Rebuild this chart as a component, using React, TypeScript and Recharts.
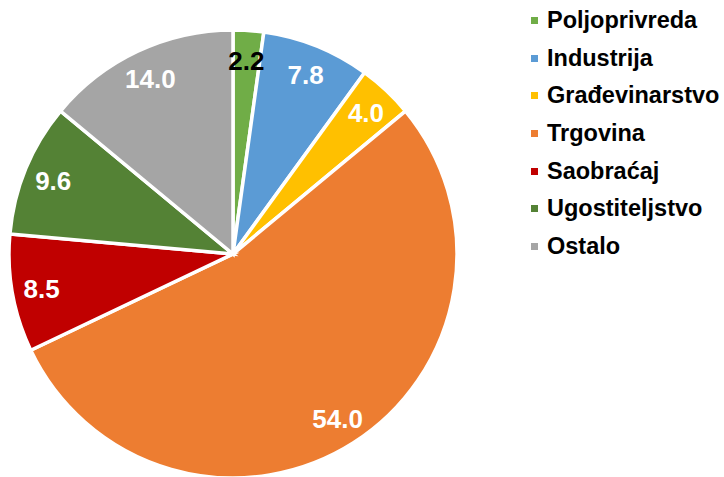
import React from 'react';
import { PieChart, Pie, Cell, Legend } from 'recharts';

const categories = ['Poljoprivreda', 'Industrija', 'Građevinarstvo', 'Trgovina', 'Saobraćaj', 'Ugostiteljstvo', 'Ostalo'];
const values = [2.2, 7.8, 4.0, 54.0, 8.5, 9.6, 14.0];
const colors = ['#70AD47', '#5B9BD5', '#FFC000', '#ED7D31', '#C00000', '#548235', '#A5A5A5'];
const labelColors = ['#000000', '#FFFFFF', '#FFFFFF', '#FFFFFF', '#FFFFFF', '#FFFFFF', '#FFFFFF'];

const data = categories.map((name, i) => ({ name, value: values[i] }));

const RAD = Math.PI / 180;

const renderLabel = (props: any) => {
  const { cx, cy, midAngle, outerRadius, value, index } = props;
  const r = outerRadius * 0.868;
  const x = cx + r * Math.cos(-midAngle * RAD);
  const y = cy + r * Math.sin(-midAngle * RAD) + 1;
  return (
    <text
      x={x}
      y={y}
      fill={labelColors[index]}
      textAnchor="middle"
      dominantBaseline="central"
      fontFamily="'Liberation Sans', Arial, sans-serif"
      fontWeight="bold"
      fontSize={26}
    >
      {Number(value).toFixed(1)}
    </text>
  );
};

const renderLegend = () => (
  <div style={{ fontFamily: "'Liberation Sans', Arial, sans-serif", fontWeight: 'bold', fontSize: 23.5, color: '#000' }}>
    {categories.map((c, i) => (
      <div key={c} style={{ height: 37.6, display: 'flex', alignItems: 'center', whiteSpace: 'nowrap' }}>
        <span style={{ display: 'inline-block', width: 7, height: 7, background: colors[i], marginRight: 9 }} />
        <span>{c}</span>
      </div>
    ))}
  </div>
);

export default function App() {
  return (
    <div style={{ position: 'absolute', left: 0, top: 0, width: 724, height: 477, background: '#fff' }}>
      <PieChart width={724} height={477} margin={{ top: 0, right: 0, bottom: 0, left: 0 }}>
        <Pie
          data={data}
          dataKey="value"
          nameKey="name"
          cx={233}
          cy={254}
          outerRadius={224}
          startAngle={90}
          endAngle={-270}
          stroke="#FFFFFF"
          strokeWidth={3.5}
          label={renderLabel}
          labelLine={false}
          isAnimationActive={false}
        >
          {data.map((d, i) => (
            <Cell key={d.name} fill={colors[i]} />
          ))}
        </Pie>
        <Legend
          content={renderLegend}
          layout="vertical"
          verticalAlign="top"
          align="right"
          wrapperStyle={{ left: 531, right: 'auto', top: 2, width: 193 }}
        />
      </PieChart>
    </div>
  );
}
